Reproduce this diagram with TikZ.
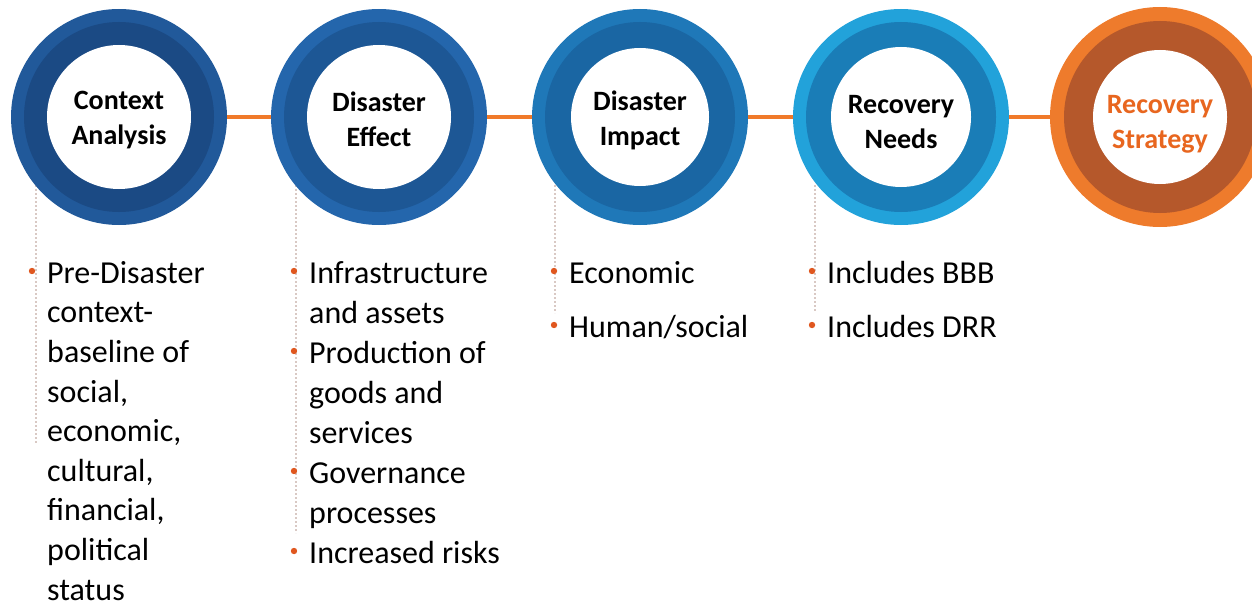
\documentclass[tikz,border=0pt]{standalone}
\usepackage{fontspec}
\setmainfont{Carlito}
\definecolor{oA}{HTML}{21599A}\definecolor{bA}{HTML}{1B4A84}
\definecolor{oB}{HTML}{2466AC}\definecolor{bB}{HTML}{1D5795}
\definecolor{oC}{HTML}{1F78B8}\definecolor{bC}{HTML}{1A66A3}
\definecolor{oD}{HTML}{22A2DA}\definecolor{bD}{HTML}{1A7DB7}
\definecolor{oE}{HTML}{EE7B2C}\definecolor{bE}{HTML}{B5582B}
\definecolor{linkc}{HTML}{F07A2A}
\definecolor{bulc}{HTML}{E0571F}
\definecolor{guidec}{HTML}{D9C9C4}
\definecolor{stratc}{HTML}{E8661F}
\newcommand{\firstln}{\rule{0pt}{30pt}}
\newcommand{\ttop}{\rule{0pt}{21pt}}
\newcommand{\tbot}{\rule[-7pt]{0pt}{7pt}}
\begin{document}
\begin{tikzpicture}[x=1pt,y=-1pt,
  ring/.style={circle, minimum size=216pt, inner sep=0pt, outer sep=0pt, draw=none},
  ctitle/.style={align=center, inner sep=0pt, font=\bfseries\fontsize{28}{35}\selectfont},
  item/.style={anchor=north west, inner sep=0pt, align=left, font=\fontsize{32}{40}\selectfont},
  itemA/.style={item, font=\fontsize{32}{39.6}\selectfont},
  link/.style={draw=linkc, line width=4pt},
  guide/.style={draw=guidec, line width=1.3pt, dash pattern=on 2pt off 2pt},
  bullet/.style={fill=bulc}]
\useasboundingbox (0,0) rectangle (1252,607);
% dotted guides
\coordinate (g1a) at (36,185); \coordinate (g1b) at (36,443);
\coordinate (g2a) at (296,185); \coordinate (g2b) at (296,533);
\coordinate (g3a) at (555,185); \coordinate (g3b) at (555,313);
\coordinate (g4a) at (815,185); \coordinate (g4b) at (815,311);
\draw[guide] (g1a) -- (g1b);
\draw[guide] (g2a) -- (g2b);
\draw[guide] (g3a) -- (g3b);
\draw[guide] (g4a) -- (g4b);
% circles
\node[ring, fill=oA] (c1) at (119,117) {};
\fill[bA] (c1.center) circle[radius=95pt];
\fill[white] (c1.center) circle[radius=72pt];
\node[ring, fill=oB] (c2) at (379,117) {};
\fill[bB] (c2.center) circle[radius=95pt];
\fill[white] (c2.center) circle[radius=72pt];
\node[ring, fill=oC] (c3) at (640,117) {};
\fill[bC] (c3.center) circle[radius=95pt];
\fill[white] (c3.center) circle[radius=69pt];
\node[ring, fill=oD] (c4) at (901,117) {};
\fill[bD] (c4.center) circle[radius=95pt];
\fill[white] (c4.center) circle[radius=70pt];
\node[ring, fill=oE, minimum size=220pt] (c5) at (1160,117) {};
\fill[bE] (c5.center) circle[radius=96pt];
\fill[white] (c5.center) circle[radius=67pt];
% connectors
\draw[link] (c1) -- (c2);
\draw[link] (c2) -- (c3);
\draw[link] (c3) -- (c4);
\draw[link] (c4) -- (c5);
% titles
\node[ctitle] (t1) at ([yshift=-3pt]c1.center) {\ttop Context\\Analysis\tbot};
\node[ctitle] (t2) at ([yshift=-5pt]c2.center) {\ttop Disaster\\Effect\tbot};
\node[ctitle] (t3) at ([yshift=-4pt]c3.center) {\ttop Disaster\\Impact\tbot};
\node[ctitle] (t4) at ([yshift=-7pt]c4.center) {\ttop Recovery\\Needs\tbot};
\node[ctitle, text=stratc] (t5) at ([yshift=-7pt]c5.center) {\ttop Recovery\\Strategy\tbot};
% bullet items
\node[itemA] (i11) at (47,253) {\firstln Pre-Disaster\\context-\\baseline of\\social,\\economic,\\cultural,\\financial,\\political\\status};
\node[item] (i21) at (309,253) {\firstln Infrastructure\\and assets};
\node[item] (i22) at (309,333) {\firstln Production of\\goods and\\services};
\node[item] (i23) at (309,453) {\firstln Governance\\processes};
\node[item] (i24) at (309,533) {\firstln Increased risks};
\node[item] (i31) at (569,253) {\firstln Economic};
\node[item] (i32) at (569,307) {\firstln Human/social};
\node[item] (i41) at (827,253) {\firstln Includes BBB};
\node[item] (i42) at (827,307) {\firstln Includes DRR};
\foreach \n in {i11,i21,i22,i23,i24,i31,i32,i41,i42}
  \fill[bullet] ([xshift=-15pt,yshift=-18pt]\n.north west) circle[radius=3.2pt];
\end{tikzpicture}
\end{document}
